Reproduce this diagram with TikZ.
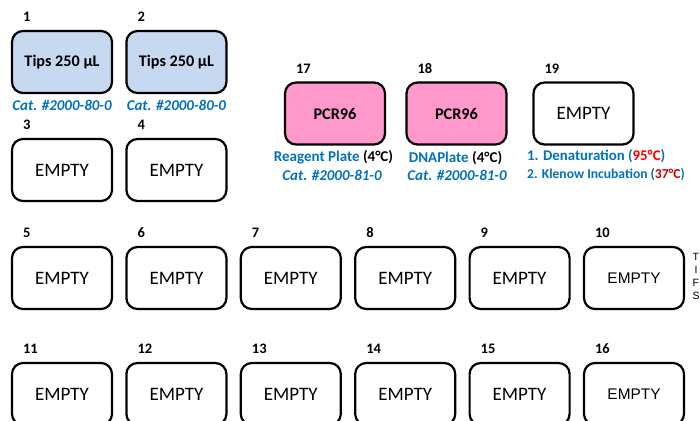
\documentclass[tikz,border=0pt]{standalone}
\usepackage{fontspec}
\setmainfont{Carlito}
\newfontfamily\arialf{Liberation Sans}
\definecolor{tipblue}{RGB}{198,217,240}
\definecolor{pcrpink}{RGB}{255,153,204}
\definecolor{capblue}{RGB}{0,112,192}
\definecolor{darkred}{RGB}{192,0,0}
\begin{document}
\begin{tikzpicture}[x=1pt,y=-1pt,
  slot/.style={draw=black, line width=2.2pt, rounded corners=11pt,
    minimum width=100pt, minimum height=62pt, inner sep=0pt,
    font=\fontsize{19}{19}\selectfont},
  tipslot/.style={slot, fill=tipblue, font=\fontsize{16.2}{16.2}\selectfont\bfseries},
  pcrslot/.style={slot, fill=pcrpink, font=\fontsize{16.3}{16.3}\selectfont\bfseries},
  arialslot/.style={slot, font=\arialf\fontsize{15.4}{15.4}\selectfont},
  num/.style={anchor=west, inner sep=0pt, font=\fontsize{14.5}{14.5}\selectfont\bfseries},
  captxt/.style={inner sep=0pt, text=capblue, font=\fontsize{15}{15}\selectfont\bfseries},
  cattxt/.style={captxt, font=\fontsize{15}{15}\selectfont\bfseries\itshape},
  side/.style={anchor=west, inner sep=0pt, font=\arialf\fontsize{10.5}{10.5}\selectfont}
]
\useasboundingbox (0,0) rectangle (700,420);
% row 1-2 tips and empty
\node[tipslot] (b1) at (62,62) {Tips 250 µL};
\node[tipslot] (b2) at (176.4,62) {Tips 250 µL};
\node[slot] (b3) at (62,170) {EMPTY};
\node[slot] (b4) at (176.4,170) {EMPTY};
% plates
\node[pcrslot] (b17) at (335,113.5) {PCR96};
\node[pcrslot] (b18) at (456.5,113.5) {PCR96};
\node[slot] (b19) at (583.5,113.5) {EMPTY};
% row 3
\node[slot] (b5) at (62,278) {EMPTY};
\node[slot] (b6) at (176.4,278) {EMPTY};
\node[slot] (b7) at (290.8,278) {EMPTY};
\node[slot] (b8) at (405.2,278) {EMPTY};
\node[slot] (b9) at (519.6,278) {EMPTY};
\node[arialslot] (b10) at (634,278) {EMPTY};
% row 4
\node[slot] (b11) at (62,394) {EMPTY};
\node[slot] (b12) at (176.4,394) {EMPTY};
\node[slot] (b13) at (290.8,394) {EMPTY};
\node[slot] (b14) at (405.2,394) {EMPTY};
\node[slot] (b15) at (519.6,394) {EMPTY};
\node[arialslot] (b16) at (634,394) {EMPTY};
% numbers
\foreach \n in {1,2,3,4,5,6,7,8,9,10,11,12,13,14,15,16,17,18,19}{
  \node[num] (n\n) at ([xshift=12pt,yshift=13pt]b\n.north west) {\n};
}
% captions
\node[cattxt] (c1) at (62,105) {Cat. \#2000-80-0};
\node[cattxt] (c2) at (176.4,105) {Cat. \#2000-80-0};
\node[captxt] (c17a) at (333.5,157.7) {Reagent Plate \textcolor{black}{(4°C)}};
\node[cattxt] (c17b) at (332,175.7) {Cat. \#2000-81-0};
\node[captxt] (c18a) at (455.5,157.7) {DNAPlate \textcolor{black}{(4°C)}};
\node[cattxt] (c18b) at (457,175.7) {Cat. \#2000-81-0};
\node[captxt, anchor=west, font=\fontsize{14.8}{14.8}\selectfont\bfseries] (c19a) at (527,155.7) {1. Denaturation (\textcolor{red}{95°C})};
\node[captxt, anchor=west, font=\fontsize{13.6}{13.6}\selectfont\bfseries] (c19b) at (527,174.3) {2. Klenow Incubation (\textcolor{darkred}{37°C})};
% side text at the right edge
\node[side] (s1) at (692.5,257) {T};
\node[side] (s2) at (694.5,270) {I};
\node[side] (s3) at (692.5,283) {F};
\node[side] (s4) at (692.5,296) {S};
\end{tikzpicture}
\end{document}
